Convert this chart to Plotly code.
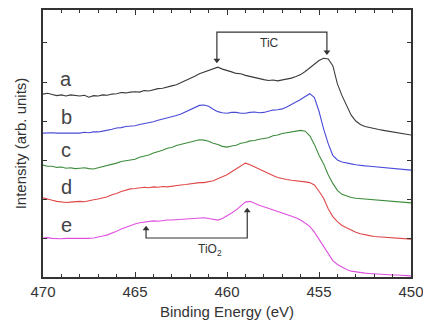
import plotly.graph_objects as go

# Binding energy grid (eV), 470 -> 450 in 0.25 eV steps
energy = [470 - 0.25 * i for i in range(81)]

# Offset spectra (arb. units); each row covers 1 eV
spec_a = [4.69, 4.71, 4.68, 4.65,
          4.67, 4.64, 4.67, 4.65,
          4.64, 4.66, 4.61, 4.65,
          4.64, 4.67, 4.66, 4.69,
          4.70, 4.73, 4.72, 4.74,
          4.75, 4.74, 4.78, 4.77,
          4.80, 4.83, 4.84, 4.88,
          4.90, 4.93, 4.98, 5.04,
          5.10, 5.15, 5.21, 5.25,
          5.28, 5.33, 5.38, 5.33,
          5.30, 5.26, 5.22, 5.21,
          5.17, 5.14, 5.12, 5.09,
          5.06, 5.04, 5.05, 5.03,
          5.05, 5.07, 5.10, 5.14,
          5.19, 5.27, 5.36, 5.46,
          5.55, 5.61, 5.59, 5.42,
          4.95, 4.65, 4.40, 4.15,
          4.00, 3.91, 3.86, 3.83,
          3.80, 3.78, 3.76, 3.74,
          3.72, 3.70, 3.67, 3.66,
          3.64]
spec_b = [3.69, 3.70, 3.70, 3.69,
          3.69, 3.68, 3.68, 3.69,
          3.69, 3.71, 3.70, 3.72,
          3.72, 3.74, 3.76, 3.79,
          3.82, 3.83, 3.86, 3.87,
          3.88, 3.91, 3.93, 3.96,
          3.98, 4.02, 4.05, 4.07,
          4.10, 4.14, 4.18, 4.23,
          4.28, 4.35, 4.40, 4.41,
          4.38, 4.30, 4.24, 4.21,
          4.20, 4.22, 4.22, 4.20,
          4.20, 4.22, 4.23, 4.21,
          4.22, 4.25, 4.28, 4.29,
          4.31, 4.36, 4.42, 4.48,
          4.55, 4.63, 4.70, 4.60,
          4.25, 3.80, 3.42, 3.12,
          3.00, 2.95, 2.92, 2.90,
          2.88, 2.86, 2.85, 2.84,
          2.83, 2.81, 2.80, 2.79,
          2.78, 2.77, 2.76, 2.75,
          2.74]
spec_c = [2.87, 2.84, 2.84, 2.81,
          2.82, 2.79, 2.80, 2.78,
          2.79, 2.80, 2.78, 2.77,
          2.80, 2.83, 2.86, 2.88,
          2.92, 2.96, 2.98, 3.01,
          3.02, 3.07, 3.10, 3.13,
          3.18, 3.21, 3.25, 3.30,
          3.32, 3.37, 3.40, 3.44,
          3.46, 3.50, 3.52, 3.51,
          3.48, 3.43, 3.40, 3.35,
          3.33, 3.36, 3.38, 3.43,
          3.45, 3.49, 3.50, 3.53,
          3.55, 3.57, 3.62, 3.64,
          3.68, 3.70, 3.72, 3.75,
          3.76, 3.74, 3.62, 3.40,
          3.12, 2.90, 2.62, 2.40,
          2.22, 2.12, 2.07, 2.04,
          2.02, 2.01, 2.00, 1.99,
          1.98, 1.97, 1.96, 1.95,
          1.94, 1.93, 1.92, 1.91,
          1.90]
spec_d = [2.03, 1.99, 1.97, 1.94,
          1.93, 1.91, 1.92, 1.93,
          1.94, 1.93, 1.96, 1.98,
          2.00, 2.03, 2.06, 2.11,
          2.14, 2.19, 2.22, 2.26,
          2.27, 2.29, 2.30, 2.29,
          2.31, 2.30, 2.32, 2.31,
          2.33, 2.35, 2.36, 2.37,
          2.39, 2.41, 2.42, 2.42,
          2.44, 2.47, 2.52, 2.57,
          2.62, 2.70, 2.78, 2.86,
          2.92, 2.88, 2.82, 2.77,
          2.70, 2.66, 2.60, 2.55,
          2.52, 2.50, 2.48, 2.47,
          2.46, 2.44, 2.42, 2.36,
          2.20, 2.02, 1.75, 1.55,
          1.42, 1.32, 1.26, 1.20,
          1.15, 1.11, 1.08, 1.06,
          1.04, 1.03, 1.02, 1.01,
          1.00, 0.99, 0.98, 0.98,
          0.97]
spec_e = [1.00, 1.01, 0.99, 0.98,
          0.98, 0.99, 0.99, 0.98,
          0.98, 0.99, 0.99, 1.00,
          1.02, 1.05, 1.08, 1.12,
          1.17, 1.23, 1.28, 1.33,
          1.36, 1.39, 1.41, 1.42,
          1.44, 1.43, 1.45, 1.46,
          1.46, 1.47, 1.48, 1.49,
          1.50, 1.50, 1.51, 1.52,
          1.50, 1.48, 1.46, 1.50,
          1.56, 1.64, 1.72, 1.82,
          1.92, 1.94, 1.88, 1.84,
          1.80, 1.76, 1.72, 1.68,
          1.64, 1.60, 1.57, 1.52,
          1.46, 1.39, 1.30, 1.15,
          0.97, 0.78, 0.58, 0.42,
          0.32, 0.25, 0.19, 0.15,
          0.13, 0.11, 0.10, 0.09,
          0.08, 0.07, 0.06, 0.06,
          0.05, 0.05, 0.04, 0.04,
          0.03]

series_names = ["a", "b", "c", "d", "e"]
series_colors = ["#3a3a3a", "#4a4ad8", "#3c8c3c", "#e04848", "#e050e0"]
series_data = [spec_a, spec_b, spec_c, spec_d, spec_e]

# Label positions for each spectrum (energy, intensity)
label_energy = 468.75
label_level = [5.08, 4.10, 3.26, 2.31, 1.33]

# Peak assignment brackets: (left energy, right energy), bar level, arrow tips
tic_edges, tic_bar, tic_tips = (460.55, 454.57), 6.28, (5.56, 5.77)
tio2_edges, tio2_bar, tio2_tips = (464.4, 458.9), 1.0, (1.24, 1.70)

FONT = "Liberation Sans, Arial, sans-serif"
AXIS_COLOR = "#333333"
TEXT_COLOR = "#333333"

fig = go.Figure()
for name, col, ys in zip(series_names, series_colors, series_data):
    fig.add_trace(go.Scatter(x=energy, y=ys, mode="lines", name=name,
                             line=dict(color=col, width=1.1), hoverinfo="skip"))

for name, lvl in zip(series_names, label_level):
    fig.add_annotation(x=label_energy, y=lvl, text=name, showarrow=False,
                       font=dict(family=FONT, size=20, color="#444444"))


def add_bracket(edges, bar, tips, head_symbol):
    """Draw a bracket: bar plus two stems ending in arrowheads at the tips."""
    left, right = edges
    fig.add_trace(go.Scatter(
        x=[left, left, right, right], y=[tips[0], bar, bar, tips[1]],
        mode="lines", line=dict(color=AXIS_COLOR, width=1.2),
        hoverinfo="skip"))
    fig.add_trace(go.Scatter(
        x=[left, right], y=list(tips), mode="markers",
        marker=dict(symbol=head_symbol, size=6, color=AXIS_COLOR),
        hoverinfo="skip"))


add_bracket(tic_edges, tic_bar, tic_tips, "triangle-down")
add_bracket(tio2_edges, tio2_bar, tio2_tips, "triangle-up")

fig.add_annotation(x=457.7, y=6.0, text="TiC", showarrow=False,
                   font=dict(family=FONT, size=12, color=TEXT_COLOR))
fig.add_annotation(x=460.9, y=0.69, text="TiO<sub>2</sub>", showarrow=False,
                   font=dict(family=FONT, size=12, color=TEXT_COLOR))

fig.update_layout(
    width=423, height=325,
    margin=dict(l=43, r=12, t=10, b=48),
    paper_bgcolor="white", plot_bgcolor="white",
    showlegend=False,
    font=dict(family=FONT, color=TEXT_COLOR),
)
fig.update_xaxes(
    range=[470, 450], dtick=5, tick0=450, automargin=False,
    ticks="inside", ticklen=5, tickwidth=1, tickcolor=AXIS_COLOR,
    minor=dict(ticks="inside", dtick=1, ticklen=3, tickcolor=AXIS_COLOR),
    showline=True, linecolor=AXIS_COLOR, linewidth=1.5, mirror="ticks",
    showgrid=False, zeroline=False, ticklabeloverflow="allow",
    tickfont=dict(family=FONT, size=15, color=TEXT_COLOR),
    title=dict(text="Binding Energy (eV)", standoff=8,
               font=dict(family=FONT, size=15, color=TEXT_COLOR)),
)
fig.update_yaxes(
    range=[0, 6.846], dtick=1, tick0=0, automargin=False,
    ticks="inside", ticklen=4, tickwidth=1, tickcolor=AXIS_COLOR,
    showticklabels=False,
    showline=True, linecolor=AXIS_COLOR, linewidth=1.5, mirror="ticks",
    showgrid=False, zeroline=False,
    title=dict(text="Intensity (arb. units)", standoff=11,
               font=dict(family=FONT, size=15, color=TEXT_COLOR)),
)

fig.write_html("out.html")
